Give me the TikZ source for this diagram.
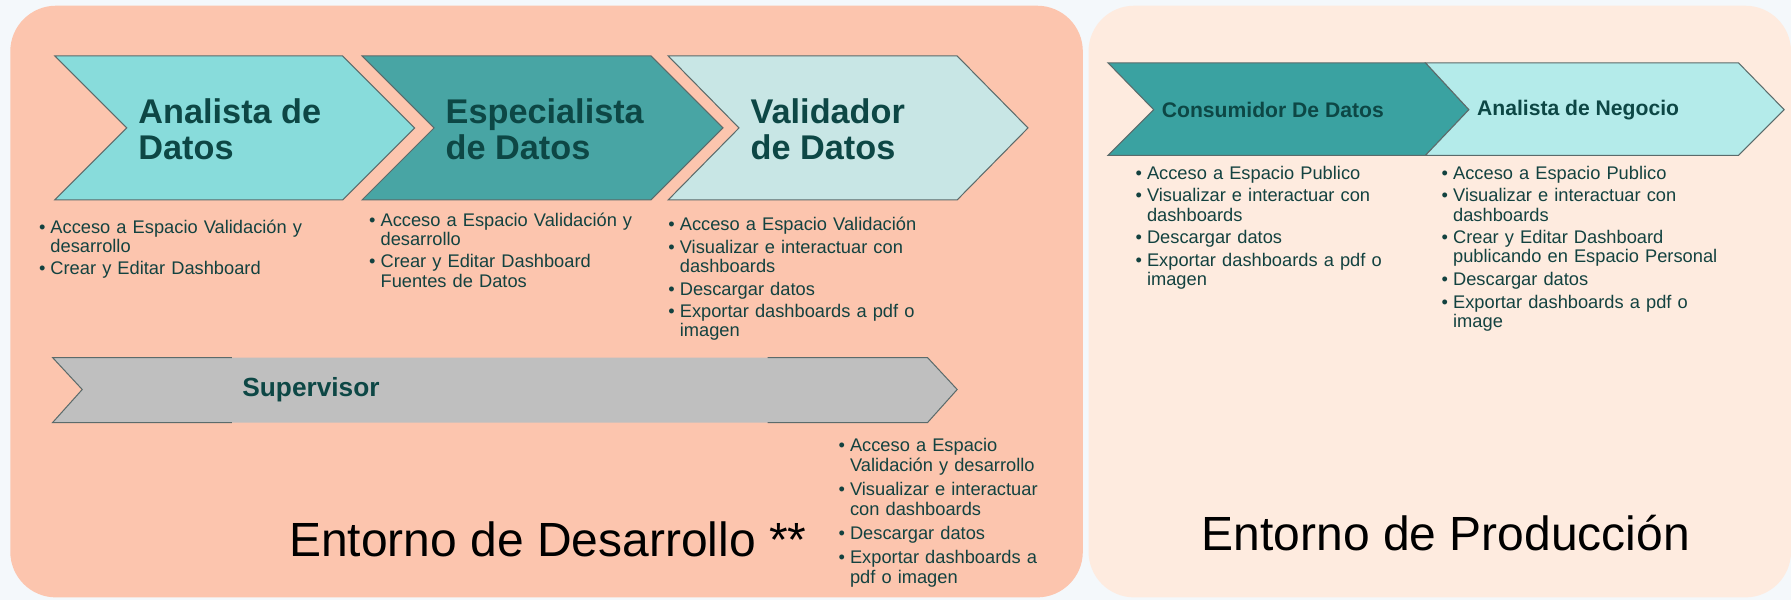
\documentclass[tikz,border=0pt]{standalone}
\usepackage{fontspec}
\setmainfont{Liberation Sans}
\definecolor{bgc}{HTML}{F4F8FB}
\definecolor{devc}{HTML}{FCC5AE}
\definecolor{prodc}{HTML}{FEEBDF}
\definecolor{cA}{HTML}{88DCDB}
\definecolor{cB}{HTML}{48A5A4}
\definecolor{cC}{HTML}{C8E6E5}
\definecolor{cD}{HTML}{3AA2A1}
\definecolor{cE}{HTML}{B4EBEA}
\definecolor{cS}{HTML}{BFBFBF}
\definecolor{titc}{HTML}{0D4745}
\definecolor{listc}{HTML}{134240}
\definecolor{edgec}{HTML}{5B6B6B}
\newcommand\itm[1]{\par\hangindent=10pt\hangafter=1\noindent\makebox[10pt][l]{•}#1\par\vspace{3pt}}
\tikzset{
  panel/.style={rounded corners=40pt},
  chev/.style={draw=edgec, line width=0.9pt, line join=miter},
  bigtitle/.style={anchor=west, inner sep=0pt, align=left, text=titc, font=\fontsize{30}{32}\selectfont\bfseries},
  smalltitle/.style={anchor=west, inner sep=0pt, text=titc, font=\fontsize{18.5}{20}\selectfont\bfseries},
  lst/.style={anchor=north west, inner sep=0pt, text width=260pt, align=left, text=listc, font=\fontsize{16}{16.8}\selectfont},
  envlabel/.style={anchor=west, inner sep=0pt, text=black, font=\fontsize{42}{45}\selectfont}
}
\begin{document}
\begin{tikzpicture}[x=1pt, y=-1pt]
\useasboundingbox (0,0) rectangle (1568,525);
\fill[bgc] (0,0) rectangle (1568,525);
% panels
\fill[devc, panel] (9,5) rectangle (948,523);
\fill[prodc, panel] (953,5) rectangle (1568,523);
% development chevrons
\filldraw[chev, fill=cA] (48,49) -- (300,49) -- (363,112) -- (300,175) -- (48,175) -- (111,112) -- cycle;
\filldraw[chev, fill=cB] (317,49) -- (570,49) -- (633,112) -- (570,175) -- (317,175) -- (380,112) -- cycle;
\filldraw[chev, fill=cC] (585,49) -- (838,49) -- (900,112) -- (838,175) -- (585,175) -- (647,112) -- cycle;
\node[bigtitle] (analista) at (121,113) {Analista de\\Datos};
\node[bigtitle] (especialista) at (390,113) {Especialista\\de Datos};
\node[bigtitle] (validador) at (657,113) {Validador\\de Datos};
% supervisor
\fill[cS] (46,313) -- (812,313) -- (838,341) -- (812,370) -- (46,370) -- (72,341) -- cycle;
\draw[chev] (203,313) -- (46,313) -- (72,341) -- (46,370) -- (203,370);
\draw[chev] (672,313) -- (812,313) -- (838,341) -- (812,370) -- (672,370);
\node[anchor=west, inner sep=0pt, text=titc, font=\fontsize{23}{25}\selectfont\bfseries] (supervisor) at (212,341) {Supervisor};
% production chevrons
\filldraw[chev, fill=cD] (970,55) -- (1248,55) -- (1286,96) -- (1248,136) -- (970,136) -- (1010,96) -- cycle;
\filldraw[chev, fill=cE] (1248,55) -- (1522,55) -- (1562,96) -- (1522,136) -- (1248,136) -- (1286,96) -- cycle;
\node[smalltitle] (consumidor) at (1017,96) {Consumidor De Datos};
\node[smalltitle] (negocio) at (1293,96) {Analista de Negocio};
% lists
\node[lst] (l1) at (34,187) {\itm{Acceso a Espacio Validación y\newline desarrollo}\itm{Crear y Editar Dashboard}};
\node[lst] (l2) at (323,181) {\itm{Acceso a Espacio Validación y\newline desarrollo}\itm{Crear y Editar Dashboard\newline Fuentes de Datos}};
\node[lst] (l3) at (585,185) {\itm{Acceso a Espacio Validación}\itm{Visualizar e interactuar con\newline dashboards}\itm{Descargar datos}\itm{Exportar dashboards a pdf o\newline imagen}};
\node[lst, font=\fontsize{16}{17.8}\selectfont] (l4) at (734,377) {\itm{Acceso a Espacio\newline Validación y desarrollo}\itm{Visualizar e interactuar\newline con dashboards}\itm{Descargar datos}\itm{Exportar dashboards a\newline pdf o imagen}};
\node[lst] (l5) at (994,140) {\itm{Acceso a Espacio Publico}\itm{Visualizar e interactuar con\newline dashboards}\itm{Descargar datos}\itm{Exportar dashboards a pdf o\newline imagen}};
\node[lst] (l6) at (1262,140) {\itm{Acceso a Espacio Publico}\itm{Visualizar e interactuar con\newline dashboards}\itm{Crear y Editar Dashboard\newline publicando en Espacio Personal}\itm{Descargar datos}\itm{Exportar dashboards a pdf o\newline image}};
% environment labels
\node[envlabel] (dev) at (253,472) {Entorno de Desarrollo **};
\node[envlabel] (prod) at (1052,467) {Entorno de Producción};
\end{tikzpicture}
\end{document}
